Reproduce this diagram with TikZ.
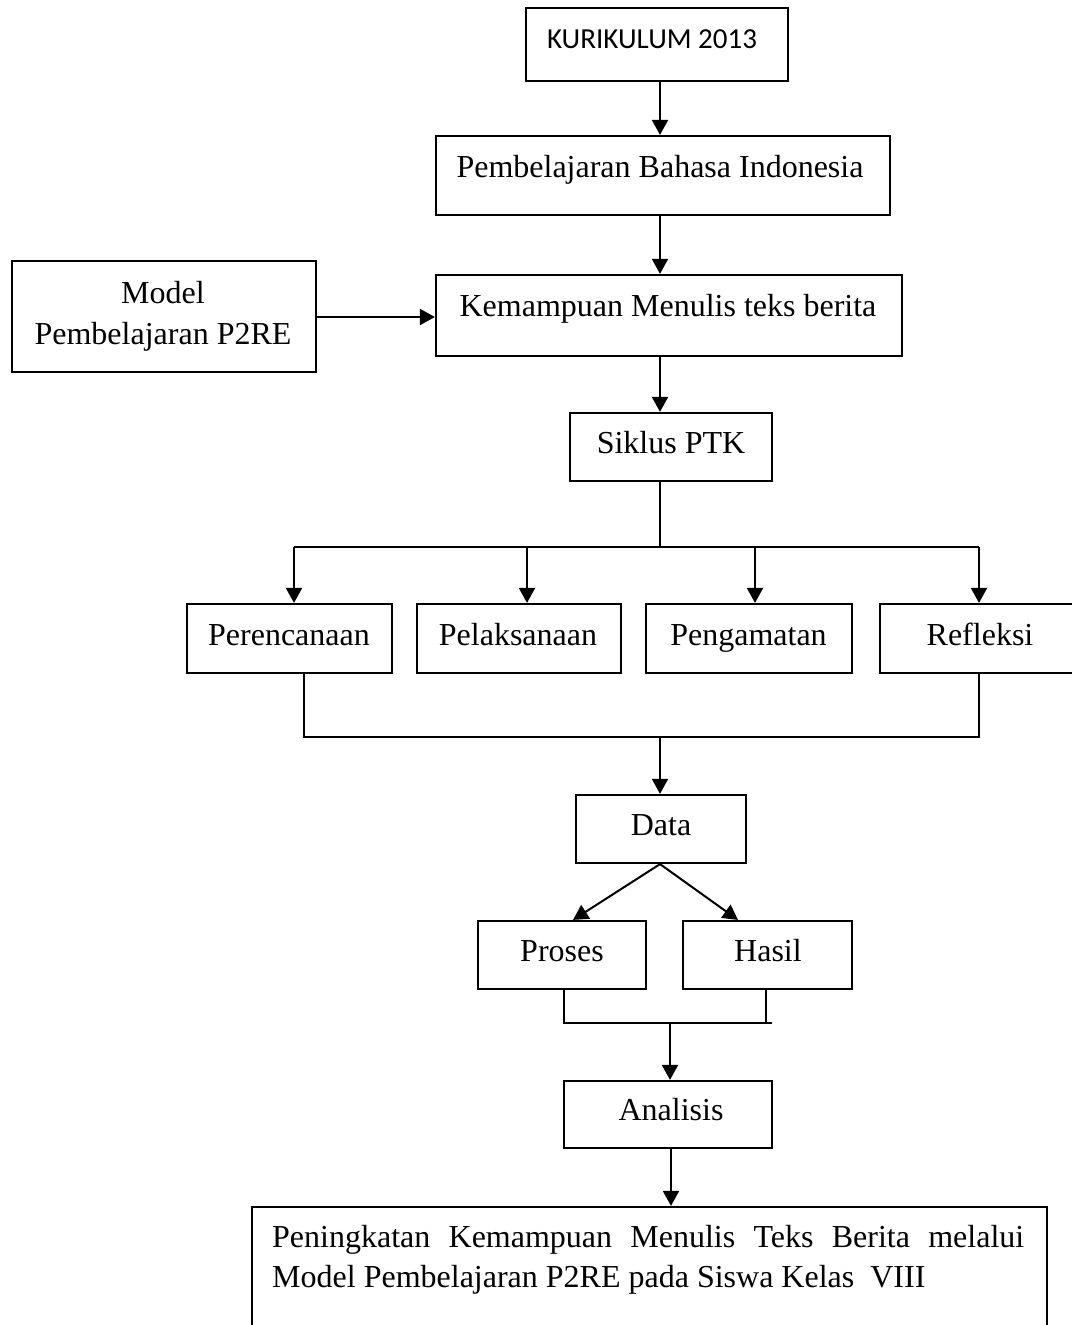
\documentclass[tikz,border=0pt]{standalone}
\usepackage{fontspec}
\setmainfont{Liberation Serif}
\newfontfamily\calibfont{Carlito}
\usetikzlibrary{arrows.meta}
\begin{document}
\begin{tikzpicture}[x=1pt,y=-1pt,
  box/.style={draw, line width=2.2pt, rectangle, inner sep=0pt},
  lbl/.style={anchor=base, inner sep=0pt, font=\fontsize{32}{31}\selectfont},
  conn/.style={line width=2pt},
  arr/.style={line width=2pt, -{Triangle[width=16pt,length=15pt]}}]
\useasboundingbox (0,0) rectangle (1071,1325);

% boxes
\node[box, minimum width=262pt, minimum height=73pt] (kur) at (657,44.5) {};
\node[box, minimum width=454pt, minimum height=79pt] (pbi) at (663,175.5) {};
\node[box, minimum width=304pt, minimum height=111pt] (model) at (164,316.5) {};
\node[box, minimum width=466pt, minimum height=81pt] (kem) at (669,315.5) {};
\node[box, minimum width=202pt, minimum height=68pt] (sik) at (671,447) {};
\node[box, minimum width=205pt, minimum height=69pt] (per) at (289.5,638.5) {};
\node[box, minimum width=204pt, minimum height=69pt] (pel) at (519,638.5) {};
\node[box, minimum width=206pt, minimum height=69pt] (peng) at (749,638.5) {};
\node[box, minimum width=200pt, minimum height=69pt] (ref) at (980,638.5) {};
\node[box, minimum width=170pt, minimum height=68pt] (data) at (661,829) {};
\node[box, minimum width=168pt, minimum height=68pt] (pro) at (562,955) {};
\node[box, minimum width=169pt, minimum height=68pt] (has) at (767.5,955) {};
\node[box, minimum width=208pt, minimum height=67pt] (ana) at (668,1114.5) {};
\node[box, minimum width=795pt, minimum height=138pt] (fin) at (649.5,1276) {};

% texts
\node[anchor=base, inner sep=0pt, font=\calibfont\fontsize{29}{31}\selectfont] (tkur) at (652,48) {KURIKULUM 2013};
\node[lbl] (tpbi) at (660,177) {Pembelajaran Bahasa Indonesia};
\node[lbl] (tmod1) at (163,303) {Model};
\node[lbl] (tmod2) at (163,344) {Pembelajaran P2RE};
\node[lbl] (tkem) at (668,316) {Kemampuan Menulis teks berita};
\node[lbl] (tsik) at (671,453) {Siklus PTK};
\node[lbl] (tper) at (289,645) {Perencanaan};
\node[lbl] (tpel) at (518,645) {Pelaksanaan};
\node[lbl] (tpeng) at (748.5,645) {Pengamatan};
\node[lbl] (tref) at (980,645) {Refleksi};
\node[lbl] (tdata) at (661,835) {Data};
\node[lbl] (tpro) at (562,961) {Proses};
\node[lbl] (thas) at (768,961) {Hasil};
\node[lbl] (tana) at (671,1120) {Analisis};
\node[lbl, anchor=base west] (tfin1) at (272,1247) {\makebox[752pt][s]{Peningkatan Kemampuan Menulis Teks Berita melalui}};
\node[lbl, anchor=base west] (tfin2) at (272,1287) {Model Pembelajaran P2RE pada Siswa Kelas\ \ VIII};

% reference coordinates
\coordinate (xa) at (660,0);
\coordinate (ym) at (0,317);
\coordinate (j1) at (660,547);
\coordinate (d1) at (294,547);
\coordinate (d2) at (527,547);
\coordinate (d3) at (755,547);
\coordinate (d4) at (979,547);
\coordinate (b1) at (304,737);
\coordinate (b0) at (660,737);
\coordinate (b4) at (979,737);
\coordinate (tp) at (573,0);
\coordinate (th) at (738,0);
\coordinate (q1) at (564,1023);
\coordinate (q0) at (670,1023);
\coordinate (q2) at (766,1023);
\coordinate (q3) at (772,1023);
\coordinate (xf) at (671,0);

% connectors
\draw[arr] (kur.south -| xa) -- (pbi.north -| xa);
\draw[arr] (pbi.south -| xa) -- (kem.north -| xa);
\draw[arr] (model.east |- ym) -- (kem.west |- ym);
\draw[arr] (kem.south -| xa) -- (sik.north -| xa);
\draw[conn] (sik.south -| xa) -- (j1);
\draw[conn] (d1) -- (d4);
\draw[arr] (d1) -- (per.north -| d1);
\draw[arr] (d2) -- (pel.north -| d2);
\draw[arr] (d3) -- (peng.north -| d3);
\draw[arr] (d4) -- (ref.north -| d4);
\draw[conn] (per.south -| b1) -- (b1) -- (b4) -- (ref.south -| b4);
\draw[arr] (b0) -- (data.north -| b0);
\draw[arr] (data.south -| xa) -- (pro.north -| tp);
\draw[arr] (data.south -| xa) -- (has.north -| th);
\draw[conn] (pro.south -| q1) -- (q1) -- (q3);
\draw[conn] (has.south -| q2) -- (q2);
\draw[arr] (q0) -- (ana.north -| q0);
\draw[arr] (ana.south -| xf) -- (fin.north -| xf);
\end{tikzpicture}
\end{document}
